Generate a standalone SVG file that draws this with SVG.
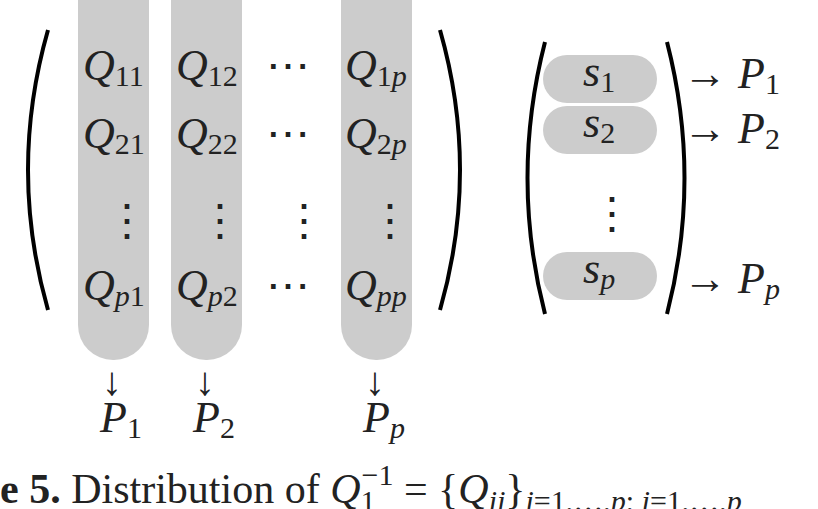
<svg xmlns="http://www.w3.org/2000/svg" width="818" height="509" viewBox="0 0 818 509">
<style>
.t{font-family:"Liberation Serif",serif;font-size:44px;fill:#222}
.i{font-style:italic}
.s{font-size:30px}
.pill{fill:#cccccc}
.par{fill:none;stroke:#000;stroke-width:4}
.dn{font-size:40px}
</style>
<rect width="818" height="509" fill="#fff"/>
<g id="columns">
<rect class="pill" x="78" y="-40" width="71" height="400" rx="35"/>
<rect class="pill" x="171" y="-40" width="71" height="400" rx="35"/>
<rect class="pill" x="341" y="-40" width="71" height="400" rx="35"/>
</g>
<g id="brackets">
<path class="par" d="M48,30 Q8,170 48,310"/>
<path class="par" d="M440,30 Q480,170 440,310"/>
<path class="par" d="M545,42 Q510,178 545,314"/>
<path class="par" d="M667,42 Q702,178 667,314"/>
</g>
<g id="matrix" class="t">
<text x="83" y="80"><tspan class="i">Q</tspan><tspan class="s" dy="6">11</tspan></text>
<text x="176" y="80"><tspan class="i">Q</tspan><tspan class="s" dy="6">12</tspan></text>
<text x="266" y="80">⋯</text>
<text x="345" y="80"><tspan class="i">Q</tspan><tspan class="s" dy="6">1<tspan class="i">p</tspan></tspan></text>
<text x="83" y="148"><tspan class="i">Q</tspan><tspan class="s" dy="6">21</tspan></text>
<text x="176" y="148"><tspan class="i">Q</tspan><tspan class="s" dy="6">22</tspan></text>
<text x="266" y="148">⋯</text>
<text x="345" y="148"><tspan class="i">Q</tspan><tspan class="s" dy="6">2<tspan class="i">p</tspan></tspan></text>
<text x="105" y="235">⋮</text>
<text x="198" y="235">⋮</text>
<text x="282" y="235">⋮</text>
<text x="368" y="235">⋮</text>
<text x="83" y="300"><tspan class="i">Q</tspan><tspan class="s" dy="6"><tspan class="i">p</tspan>1</tspan></text>
<text x="176" y="300"><tspan class="i">Q</tspan><tspan class="s" dy="6"><tspan class="i">p</tspan>2</tspan></text>
<text x="266" y="300">⋯</text>
<text x="345" y="300"><tspan class="i">Q</tspan><tspan class="s i" dy="6">pp</tspan></text>
</g>
<g id="vector">
<rect class="pill" x="543" y="55" width="114" height="48" rx="24"/>
<rect class="pill" x="543" y="106" width="114" height="48" rx="24"/>
<rect class="pill" x="543" y="252" width="114" height="48" rx="24"/>
<text class="t" x="583" y="86"><tspan class="i">s</tspan><tspan class="s" dy="6">1</tspan></text>
<text class="t" x="583" y="137"><tspan class="i">s</tspan><tspan class="s" dy="6">2</tspan></text>
<text class="t" x="590" y="228">⋮</text>
<text class="t" x="583" y="283"><tspan class="i">s</tspan><tspan class="s i" dy="6">p</tspan></text>
</g>
<g id="connectors" class="t">
<text x="683" y="88">→ <tspan class="i">P</tspan><tspan class="s" dy="6">1</tspan></text>
<text x="683" y="143">→ <tspan class="i">P</tspan><tspan class="s" dy="6">2</tspan></text>
<text x="683" y="293">→ <tspan class="i">P</tspan><tspan class="s i" dy="6">p</tspan></text>
<text class="dn" x="102" y="395">↓</text>
<text class="dn" x="195" y="395">↓</text>
<text class="dn" x="365" y="395">↓</text>
<text x="100" y="432"><tspan class="i">P</tspan><tspan class="s" dy="6">1</tspan></text>
<text x="193" y="432"><tspan class="i">P</tspan><tspan class="s" dy="6">2</tspan></text>
<text x="363" y="432"><tspan class="i">P</tspan><tspan class="s i" dy="6">p</tspan></text>
</g>
<text class="t" x="0" y="503" style="font-size:42px"><tspan font-weight="bold">e 5.</tspan> Distribution of <tspan class="i">Q</tspan><tspan class="s" dy="8">1</tspan><tspan class="s" dx="-14" dy="-26">−1</tspan><tspan dy="18"> = {</tspan><tspan class="i">Q</tspan><tspan class="s i" dy="8">ij</tspan><tspan dy="-8">}</tspan><tspan class="s" dy="8"><tspan class="i">i</tspan>=1,…,<tspan class="i">p</tspan>; <tspan class="i">j</tspan>=1,…,<tspan class="i">p</tspan></tspan></text>
</svg>
